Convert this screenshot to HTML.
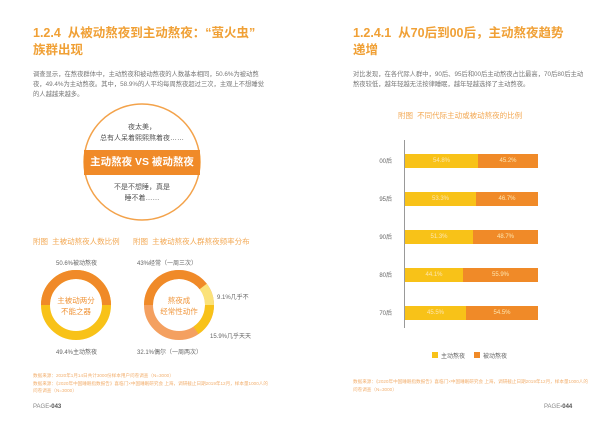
<!DOCTYPE html>
<html><head><meta charset="utf-8"><style>
body{margin:0;width:600px;height:429px;background:#fff;position:relative;overflow:hidden;font-family:"Liberation Sans","Noto Sans CJK SC",sans-serif}
.a{position:absolute;white-space:nowrap}
.t{color:#f0a035;font-weight:bold;font-size:12.5px;line-height:17px}
.b{color:#777;font-size:6.3px;line-height:10px}
.s{color:#f3a955;font-size:7.5px}
.src{color:#f2b070;font-size:4.6px;line-height:7.5px}
.g{color:#666;font-size:6px}
.bar{position:absolute;height:14px;color:#fde6b0;font-size:6px;line-height:14px;text-align:center}
</style></head><body>
<div class="a t" style="left:33px;top:25px">1.2.4&nbsp; 从被动熬夜到主动熬夜：“萤火虫”<br>族群出现</div>
<div class="a b" style="left:33px;top:70px">调查显示，在熬夜群体中，主动熬夜和被动熬夜的人数基本相同，50.6%为被动熬<br>夜，49.4%为主动熬夜。其中，58.9%的人平均每周熬夜超过三次，主观上不想睡觉<br>的人越越来越多。</div>
<svg class="a" style="left:0;top:0" width="300" height="429">
<circle cx="142" cy="162" r="58" fill="#fff" stroke="#f3a24a" stroke-width="1.5"/>
<rect x="84" y="150" width="116" height="25" fill="#f08a28"/>
<circle cx="76" cy="305" r="30.5" fill="none" stroke="#f8c218" stroke-width="9"/>
<path d="M45.5 305 A30.5 30.5 0 0 1 106.5 305" fill="none" stroke="#f08a28" stroke-width="9"/>
<g fill="none" stroke-width="9">
<circle cx="179" cy="305" r="30.5" stroke="#f4a060"/>
<path d="M148.5 305 A30.5 30.5 0 0 1 203.2 286.5" stroke="#f08a28"/>
<path d="M203.2 286.5 A30.5 30.5 0 0 1 209.5 305" stroke="#fbe27a"/>
<path d="M209.5 305 A30.5 30.5 0 0 1 196 330.3" stroke="#f8c218"/>
</g>
</svg>
<div class="a" style="left:83px;top:122px;width:118px;text-align:center;color:#555;font-size:7px;line-height:11px">夜太美，<br>总有人呆着熙熙熬着夜……</div>
<div class="a" style="left:83px;top:150px;width:118px;text-align:center;color:#fff;font-size:10.5px;font-weight:bold;line-height:25px">主动熬夜 VS 被动熬夜</div>
<div class="a" style="left:83px;top:182px;width:118px;text-align:center;color:#555;font-size:7px;line-height:11px">不是不想睡，真是<br>睡不着……</div>
<div class="a s" style="left:33px;top:236px">附图&nbsp; 主被动熬夜人数比例</div>
<div class="a s" style="left:133px;top:236px">附图&nbsp; 主被动熬夜人群熬夜频率分布</div>
<div class="a g" style="left:56px;top:258px">50.6%被动熬夜</div>
<div class="a g" style="left:56px;top:347px">49.4%主动熬夜</div>
<div class="a" style="left:46px;top:295px;width:60px;text-align:center;color:#f0953a;font-size:7.5px;line-height:11px">主被动两分<br>不能之器</div>
<div class="a" style="left:149px;top:295px;width:60px;text-align:center;color:#f0953a;font-size:7.5px;line-height:11px">熬夜成<br>经常性动作</div>
<div class="a g" style="left:137px;top:258px">43%经常（一周三次）</div>
<div class="a g" style="left:217px;top:292px">9.1%几乎不</div>
<div class="a g" style="left:210px;top:331px">15.9%几乎天天</div>
<div class="a g" style="left:137px;top:347px">32.1%偶尔（一周两次）</div>
<div class="a src" style="left:33px;top:372px">数据来源：2020年1月14日共计3000份样本用户问卷调查（N=3000）<br>数据来源：《2020年中国睡眠指数报告》喜临门×中国睡眠研究会 上海，调研截止日期2019年12月，样本量1000人的<br>问卷调查（N=3000）</div>
<div class="a" style="left:33px;top:404px;font-size:6px;color:#888">PAGE<b style="color:#555">-043</b></div>

<div class="a t" style="left:353px;top:25px">1.2.4.1&nbsp; 从70后到00后，主动熬夜趋势<br>递增</div>
<div class="a b" style="left:353px;top:70px">对比发现，在各代际人群中，90后、95后和00后主动熬夜占比最高，70后80后主动<br>熬夜较低，越年轻越无法按律睡眠，越年轻越选择了主动熬夜。</div>
<div class="a s" style="left:398px;top:110px">附图&nbsp; 不同代际主动或被动熬夜的比例</div>
<div class="a" style="left:404px;top:140px;width:1px;height:188px;background:#999"></div>
<div class="a g" style="left:370px;top:156px;width:22px;text-align:right">00后</div>
<div class="a g" style="left:370px;top:194px;width:22px;text-align:right">95后</div>
<div class="a g" style="left:370px;top:232px;width:22px;text-align:right">90后</div>
<div class="a g" style="left:370px;top:270px;width:22px;text-align:right">80后</div>
<div class="a g" style="left:370px;top:308px;width:22px;text-align:right">70后</div>
<div class="bar" style="left:405px;top:154px;width:73px;background:#f8c218">54.8%</div><div class="bar" style="left:478px;top:154px;width:60px;background:#f08a28">45.2%</div>
<div class="bar" style="left:405px;top:192px;width:71px;background:#f8c218">53.3%</div><div class="bar" style="left:476px;top:192px;width:62px;background:#f08a28">46.7%</div>
<div class="bar" style="left:405px;top:230px;width:68px;background:#f8c218">51.3%</div><div class="bar" style="left:473px;top:230px;width:65px;background:#f08a28">48.7%</div>
<div class="bar" style="left:405px;top:268px;width:58px;background:#f8c218">44.1%</div><div class="bar" style="left:463px;top:268px;width:75px;background:#f08a28">55.9%</div>
<div class="bar" style="left:405px;top:306px;width:61px;background:#f8c218">45.5%</div><div class="bar" style="left:466px;top:306px;width:72px;background:#f08a28">54.5%</div>
<div class="a" style="left:432px;top:352px;width:6px;height:6px;background:#f8c218"></div>
<div class="a g" style="left:441px;top:351px">主动熬夜</div>
<div class="a" style="left:474px;top:352px;width:6px;height:6px;background:#f08a28"></div>
<div class="a g" style="left:483px;top:351px">被动熬夜</div>
<div class="a src" style="left:353px;top:378px">数据来源：《2020年中国睡眠指数报告》喜临门×中国睡眠研究会 上海，调研截止日期2019年12月，样本量1000人的<br>问卷调查（N=3000）</div>
<div class="a" style="left:544px;top:404px;font-size:6px;color:#888">PAGE<b style="color:#555">-044</b></div>
</body></html>
